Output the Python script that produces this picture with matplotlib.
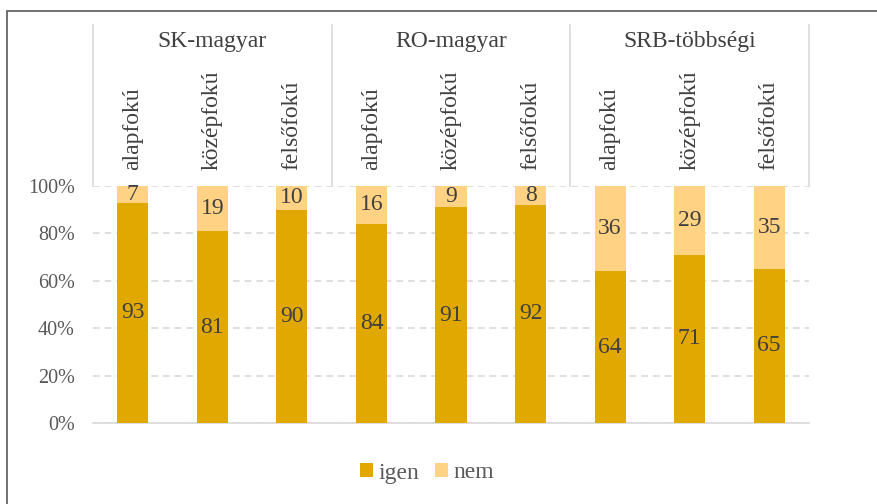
import matplotlib
matplotlib.use("Agg")
import matplotlib.pyplot as plt
from matplotlib.patches import Rectangle
from matplotlib.lines import Line2D
from matplotlib.transforms import blended_transform_factory

groups = ["SK-magyar", "RO-magyar", "SRB-többségi"]
levels = ["alapfokú", "középfokú", "felsőfokú"]
igen = [93, 81, 90, 84, 91, 92, 64, 71, 65]
nem = [7, 19, 10, 16, 9, 8, 36, 29, 35]

c_igen = "#E0A800"
c_nem = "#FFD284"
txt = "#404040"
tick_c = "#595959"
grid_c = "#D9D9D9"

plt.rcParams['font.family'] = ['Liberation Serif', 'DejaVu Serif']

W, H = 878, 504
fig = plt.figure(figsize=(W / 100, H / 100), dpi=100)
fig.patches.append(Rectangle((7 / W, -0.01), 1.02, (504 - 11) / H + 0.01, transform=fig.transFigure,
                             fill=False, edgecolor="#595959", linewidth=1.2))

x0, x1, y0, y1 = 93, 809, 423, 186
ax = fig.add_axes([x0 / W, 1 - y0 / H, (x1 - x0) / W, (y0 - y1) / H])

n = len(igen)
xs = list(range(n))
bw = 0.39
ax.bar(xs, igen, width=bw, color=c_igen, zorder=3, label="igen")
ax.bar(xs, nem, width=bw, bottom=igen, color=c_nem, zorder=3, label="nem")

for x, a, b in zip(xs, igen, nem):
    ax.text(x, a / 2, str(a), ha="center", va="center", fontsize=17, color=txt, zorder=4)
    ax.text(x, a + b / 2, str(b), ha="center", va="center", fontsize=17, color=txt, zorder=4)

ax.set_xlim(-0.5, n - 0.5)
ax.set_ylim(0, 100)
ax.set_yticks([0, 20, 40, 60, 80, 100])
ax.set_yticklabels([f"{v}%" for v in [0, 20, 40, 60, 80, 100]], fontsize=14.5, color=tick_c)
ax.tick_params(axis="y", length=0, pad=13)
ax.tick_params(axis="x", length=0, labelbottom=False)
ax.yaxis.grid(True, color=grid_c, linestyle=(0, (4, 3)), linewidth=1.2, zorder=0)
for s in ["top", "right", "left"]:
    ax.spines[s].set_visible(False)
ax.spines["bottom"].set_color(grid_c)
ax.spines["bottom"].set_linewidth(1.2)

# header box with categories
tr = blended_transform_factory(ax.transData, ax.transAxes)
hp = 423 - 186
top_y = 1 + (186 - 25) / hp
for k in range(len(groups) + 1):
    xv = -0.5 + 3 * k
    ax.add_line(Line2D([xv, xv], [1, top_y], transform=tr, color=grid_c, linewidth=1.2, clip_on=False))
for k, g in enumerate(groups):
    ax.text(3 * k + 1, 1 + (186 - 41) / hp, g, transform=tr, ha="center", va="center",
            fontsize=17, color=txt)
for x in xs:
    ax.text(x, 1 + (186 - 170) / hp, levels[x % 3], transform=tr, ha="left", va="center",
            rotation=90, fontsize=17, color=txt, rotation_mode="anchor")

leg = fig.legend(loc="center", bbox_to_anchor=(427 / W, 1 - 473 / H), ncol=2, frameon=False,
                 fontsize=17, handlelength=0.55, handleheight=0.55, handletextpad=0.2, columnspacing=0.7)
for t in leg.get_texts():
    t.set_color(tick_c)

fig.savefig("out.png", dpi=100)
